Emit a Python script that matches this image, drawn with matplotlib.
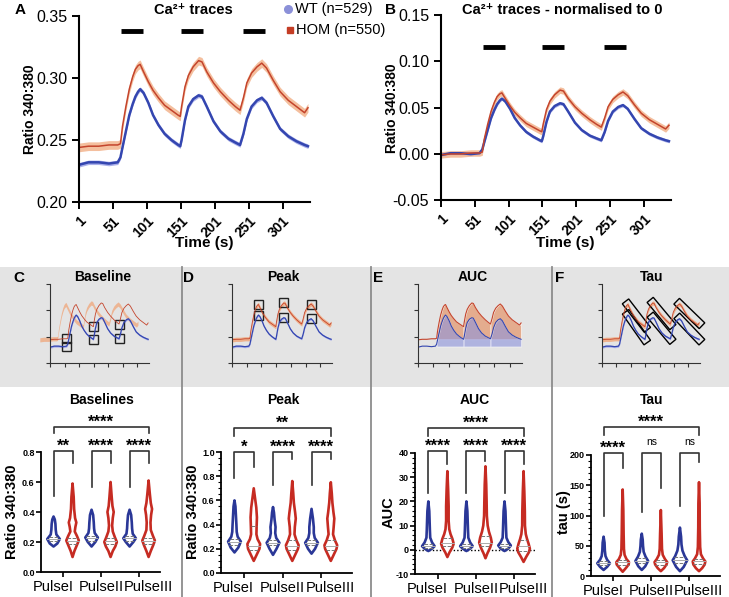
import numpy as np
import matplotlib.pyplot as plt
from matplotlib.patches import Rectangle, Polygon
from matplotlib.transforms import IdentityTransform

plt.rcParams['font.family'] = ['Liberation Sans', 'DejaVu Sans']

W, H = 729, 597

# ---------- Ca2+ traces ----------
time_s = [1, 15, 30, 45, 58, 62, 65, 70, 75, 80, 84, 88, 91, 96, 103, 110, 118, 127, 137, 147,
          150, 152, 157, 162, 169, 177, 182, 189, 199, 209, 221, 231, 238, 243, 248, 255,
          263, 270, 277, 287, 297, 309, 321, 333, 338]
wt_ratio = [0.230, 0.232, 0.232, 0.231, 0.232, 0.236, 0.244, 0.257, 0.270, 0.279,
            0.285, 0.289, 0.291, 0.288, 0.280, 0.270, 0.262, 0.255, 0.250, 0.246,
            0.245, 0.250, 0.266, 0.277, 0.283, 0.286, 0.285, 0.277, 0.265, 0.257,
            0.251, 0.248, 0.246, 0.255, 0.267, 0.277, 0.282, 0.284, 0.280, 0.269,
            0.259, 0.253, 0.249, 0.246, 0.245]
hom_ratio = [0.244, 0.245, 0.245, 0.246, 0.246, 0.247, 0.261, 0.277, 0.291, 0.301,
             0.307, 0.310, 0.311, 0.305, 0.297, 0.290, 0.284, 0.278, 0.274, 0.270,
             0.269, 0.277, 0.293, 0.302, 0.309, 0.314, 0.313, 0.305, 0.296, 0.289,
             0.282, 0.277, 0.274, 0.284, 0.296, 0.304, 0.309, 0.312, 0.308, 0.298,
             0.289, 0.282, 0.277, 0.272, 0.276]
wt_sem = 0.0018
hom_sem = 0.0035
stim_on = [63, 151, 242]
stim_off = [95, 183, 275]
trough_s = [58, 150, 238]
peak_s = [91, 177, 270]
end_s = [150, 238, 338]
onset_s = 62

# ---------- violin outlines (value, relative half-width), WT/HOM per pulse ----------
pulses = ['PulseI', 'PulseII', 'PulseIII']
base_prof = [
    [(0.17, 0), (0.19, 0.6), (0.22, 1.0), (0.25, 0.45), (0.28, 0.35), (0.32, 0.3), (0.35, 0.2), (0.37, 0)],
    [(0.10, 0), (0.14, 0.3), (0.18, 0.7), (0.21, 1.0), (0.24, 0.7), (0.27, 0.35), (0.30, 0.45), (0.33, 0.6),
     (0.36, 0.4), (0.42, 0.25), (0.50, 0.18), (0.59, 0)],
    [(0.17, 0), (0.20, 0.6), (0.23, 1.0), (0.26, 0.5), (0.29, 0.4), (0.33, 0.35), (0.38, 0.25), (0.415, 0)],
    [(0.10, 0), (0.14, 0.35), (0.17, 0.75), (0.20, 1.0), (0.23, 0.7), (0.27, 0.35), (0.31, 0.25), (0.36, 0.35),
     (0.40, 0.5), (0.44, 0.3), (0.50, 0.18), (0.60, 0)],
    [(0.17, 0), (0.20, 0.6), (0.225, 1.0), (0.255, 0.5), (0.29, 0.4), (0.33, 0.35), (0.38, 0.25), (0.415, 0)],
    [(0.10, 0), (0.14, 0.35), (0.18, 0.75), (0.21, 1.0), (0.24, 0.7), (0.28, 0.35), (0.33, 0.3), (0.38, 0.4),
     (0.42, 0.55), (0.46, 0.35), (0.52, 0.2), (0.61, 0)],
]
base_quart = [(0.205, 0.218, 0.232), (0.19, 0.205, 0.225), (0.21, 0.225, 0.24),
              (0.19, 0.21, 0.225), (0.21, 0.225, 0.24), (0.19, 0.21, 0.225)]

peak_prof = [
    [(0.17, 0), (0.21, 0.6), (0.26, 1.0), (0.30, 0.5), (0.34, 0.35), (0.40, 0.3), (0.48, 0.22), (0.55, 0.15), (0.60, 0)],
    [(0.10, 0), (0.15, 0.45), (0.20, 0.9), (0.24, 1.0), (0.28, 0.6), (0.32, 0.42), (0.38, 0.45), (0.46, 0.5),
     (0.54, 0.4), (0.60, 0.25), (0.70, 0)],
    [(0.15, 0), (0.20, 0.55), (0.25, 1.0), (0.29, 0.5), (0.33, 0.35), (0.38, 0.4), (0.44, 0.25), (0.50, 0.15), (0.545, 0)],
    [(0.10, 0), (0.15, 0.45), (0.20, 0.9), (0.23, 1.0), (0.27, 0.65), (0.32, 0.35), (0.38, 0.4), (0.45, 0.55),
     (0.50, 0.45), (0.58, 0.25), (0.66, 0.15), (0.76, 0)],
    [(0.16, 0), (0.20, 0.55), (0.25, 1.0), (0.29, 0.5), (0.33, 0.35), (0.38, 0.35), (0.45, 0.22), (0.53, 0)],
    [(0.10, 0), (0.15, 0.45), (0.20, 0.9), (0.23, 1.0), (0.27, 0.65), (0.32, 0.35), (0.38, 0.45), (0.45, 0.55),
     (0.50, 0.42), (0.58, 0.25), (0.66, 0.15), (0.75, 0)],
]
peak_quart = [(0.235, 0.26, 0.28), (0.19, 0.225, 0.39), (0.23, 0.25, 0.27),
              (0.19, 0.22, 0.27), (0.23, 0.25, 0.27), (0.19, 0.22, 0.27)]

auc_prof = [
    [(-0.5, 0), (0.5, 0.6), (1.5, 1.0), (3, 0.6), (5, 0.3), (8, 0.25), (12, 0.2), (16, 0.15), (20, 0)],
    [(-3, 0), (-1, 0.35), (1, 0.8), (2.5, 1.0), (4.5, 0.8), (6.5, 0.5), (8.5, 0.3), (12, 0.2), (18, 0.2),
     (25, 0.12), (32.5, 0)],
    [(-0.5, 0), (0.5, 0.6), (1.5, 1.0), (3, 0.6), (5, 0.3), (8, 0.25), (12, 0.2), (16, 0.15), (20, 0)],
    [(-3.5, 0), (-1.5, 0.3), (1, 0.75), (3, 1.0), (5, 0.85), (7.5, 0.55), (10, 0.35), (14, 0.22), (20, 0.18),
     (27, 0.12), (34.5, 0)],
    [(-0.5, 0), (0.5, 0.6), (1.8, 1.0), (3.2, 0.6), (5, 0.3), (8, 0.25), (12, 0.2), (16, 0.15), (20, 0)],
    [(-5, 0), (-3, 0.4), (-1, 0.85), (0.5, 1.0), (2.5, 0.8), (4.5, 0.55), (6.5, 0.35), (10, 0.22), (16, 0.2),
     (24, 0.12), (32.5, 0)],
]
auc_quart = [(0.8, 1.5, 2.5), (1.5, 2.7, 5), (0.8, 1.5, 2.5), (1.5, 3, 5.5), (0.8, 1.6, 2.6), (-0.5, 1.5, 4)]

tau_prof = [
    [(10, 0), (15, 0.55), (21, 1.0), (27, 0.55), (33, 0.3), (42, 0.2), (55, 0.15), (65, 0)],
    [(7, 0), (13, 0.5), (19, 0.95), (23, 1.0), (28, 0.6), (35, 0.3), (45, 0.2), (70, 0.15), (110, 0.1), (143, 0)],
    [(10, 0), (16, 0.55), (25, 1.0), (32, 0.6), (40, 0.3), (50, 0.2), (60, 0.15), (70, 0)],
    [(8, 0), (13, 0.5), (19, 0.9), (23, 1.0), (28, 0.65), (35, 0.3), (45, 0.18), (70, 0.12), (109, 0)],
    [(8, 0), (15, 0.6), (26, 1.15), (33, 0.75), (42, 0.4), (52, 0.25), (65, 0.18), (80, 0)],
    [(8, 0), (13, 0.5), (19, 0.9), (24, 1.0), (29, 0.65), (36, 0.3), (48, 0.18), (80, 0.12), (120, 0.1), (155, 0)],
]
tau_quart = [(18, 21, 25), (19, 23, 27), (21, 25, 29), (19, 23, 27), (22, 26, 31), (20, 24, 28)]

# significance brackets: pair legs (WT end, HOM end), pair top, labels, overall top / leg / label
base_sig = dict(legs=[(0.51, 0.73), (0.57, 0.73), (0.57, 0.73)], top=0.805,
                labels=['**', '****', '****'], otop=0.965, oleg=0.925, olabel='****')
peak_sig = dict(legs=[(0.785, 0.876), (0.73, 0.94), (0.73, 0.94)], top=1.0,
                labels=['*', '****', '****'], otop=1.198, oleg=1.13, olabel='**')
auc_sig = dict(legs=[(23.5, 35.4), (23.5, 36.5), (23.5, 35.4)], top=40.7,
               labels=['****', '****', '****'], otop=50.2, oleg=47, olabel='****')
tau_sig = dict(legs=[(100, 178), (105, 145), (115, 188)], top=203,
               labels=['****', 'ns', 'ns'], otop=246, oleg=233, olabel='****')

WT_C, HOM_C = '#3446b0', '#c4442c'
WT_BAND, HOM_BAND = '#aab0ea', '#f3b894'
VWT, VHOM = '#2a3797', '#c62b22'

wt = np.array(wt_ratio)
hom = np.array(hom_ratio)
t = np.array(time_s)


def px_rect(x0, y0, x1, y1):
    return [x0 / W, 1 - y1 / H, (x1 - x0) / W, (y1 - y0) / H]


fig = plt.figure(figsize=(W / 100, H / 100), dpi=100)

# background: grey strip + separators + free text
bg = fig.add_axes([0, 0, 1, 1], zorder=0)
bg.set_xlim(0, W)
bg.set_ylim(H, 0)
bg.axis('off')
bg.add_patch(Rectangle((0, 267), W, 120, facecolor='#e4e4e4', edgecolor='none'))
for xs in [182, 371, 552]:
    bg.plot([xs, xs], [267, H], color='#8c8c8c', lw=1.3)

bg.plot([288], [9], 'o', color='#8b90d8', ms=5.5)
bg.text(295, 9, 'WT (n=529)', va='center', fontsize=10.5)
bg.plot([290], [30], 's', color='#c43d25', ms=4.5)
bg.text(296, 30, 'HOM (n=550)', va='center', fontsize=10.5)

for lab, x, y in [('A', 20, 10), ('B', 391, 10), ('C', 19, 278), ('D', 189, 278), ('E', 378, 278), ('F', 560, 278)]:
    bg.text(x, y, lab, fontsize=11, fontweight='bold', ha='center', va='center')
bg.text(193, 10, 'Ca²⁺ traces', fontsize=10.5, fontweight='bold', ha='center', va='center')
bg.text(562, 10, 'Ca²⁺ traces - normalised to 0', fontsize=10.5, fontweight='bold',
        ha='center', va='center')
for x in [204, 565]:
    bg.text(x, 243, 'Time (s)', fontsize=11, fontweight='bold', ha='center', va='center')
for x, y in [(30, 109), (392, 108)]:
    bg.text(x, y, 'Ratio 340:380', fontsize=10, fontweight='bold', rotation=90, ha='center', va='center')
for lab, x in [('Baseline', 103), ('Peak', 283), ('AUC', 473), ('Tau', 652)]:
    bg.text(x, 277, lab, fontsize=10, fontweight='bold', ha='center', va='center')
for lab, x in [('Baselines', 102), ('Peak', 283), ('AUC', 475), ('Tau', 652)]:
    bg.text(x, 400, lab, fontsize=10, fontweight='bold', ha='center', va='center')
for lab, x in [('Ratio 340:380', 12), ('Ratio 340:380', 193), ('AUC', 389), ('tau (s)', 564)]:
    bg.text(x, 512, lab, fontsize=10.5, fontweight='bold', rotation=90, ha='center', va='center')


# ---------- A and B ----------
def trace_axes(rect, wt_y, hom_y, ylim, yticks, bar_y):
    ax = fig.add_axes(rect, zorder=1)
    ax.set_facecolor('none')
    ax.fill_between(t, wt_y - wt_sem, wt_y + wt_sem, color=WT_BAND, lw=0)
    ax.plot(t, wt_y, color=WT_C, lw=1.8)
    ax.fill_between(t, hom_y - hom_sem, hom_y + hom_sem, color=HOM_BAND, lw=0, alpha=0.9)
    ax.plot(t, hom_y, color=HOM_C, lw=1.1)
    ax.hlines([bar_y] * 3, stim_on, stim_off, color='k', lw=3.5)
    ax.set_xlim(1, 341)
    ax.set_ylim(*ylim)
    ax.set_yticks(yticks)
    ax.set_yticklabels(['%.2f' % v for v in yticks], fontsize=11.5)
    ax.set_xticks(range(1, 302, 50))
    ax.set_xticklabels([str(v) for v in range(1, 302, 50)], rotation=45, ha='right', va='top',
                       rotation_mode='anchor', fontsize=10, fontweight='bold')
    for s in ['top', 'right']:
        ax.spines[s].set_visible(False)
    for s in ['left', 'bottom']:
        ax.spines[s].set_linewidth(1.5)
    ax.tick_params(length=5, width=1.4)
    return ax


trace_axes(px_rect(79, 16, 310, 202), wt, hom, (0.20, 0.35), [0.20, 0.25, 0.30, 0.35], 0.338)
wt0 = wt - wt[:5].mean()
hom0 = hom - hom[:5].mean()
trace_axes(px_rect(441, 15, 671, 200), wt0, hom0, (-0.05, 0.15), [-0.05, 0.00, 0.05, 0.10, 0.15], 0.115)


# ---------- small schematic insets ----------
def inset(rect):
    ax = fig.add_axes(rect, zorder=1)
    ax.set_facecolor('none')
    ax.set_xlim(1, 341)
    ax.set_ylim(0.20, 0.35)
    ax.set_xticks(range(1, 302, 50))
    ax.set_yticks([0.20, 0.25, 0.30, 0.35])
    ax.tick_params(labelbottom=False, labelleft=False, length=3, width=0.8, color='#333333')
    for s in ['top', 'right']:
        ax.spines[s].set_visible(False)
    for s in ['left', 'bottom']:
        ax.spines[s].set_linewidth(0.8)
        ax.spines[s].set_color('#333333')
    return ax


def square(ax, tt, v, half=4.5):
    x, y = ax.transData.transform((tt, v))
    ax.add_patch(Rectangle((x - half, y - half), 2 * half, 2 * half, fill=False, ec='#222222', lw=1.0,
                           transform=IdentityTransform(), clip_on=False))


def seg_box(ax, t0, v0, t1, v1, half=4.0, ext=4.0):
    p0 = ax.transData.transform((t0, v0))
    p1 = ax.transData.transform((t1, v1))
    d = (p1 - p0) / np.hypot(*(p1 - p0))
    n = np.array([-d[1], d[0]])
    a, b = p0 - d * ext, p1 + d * ext
    pts = [a + n * half, b + n * half, b - n * half, a - n * half]
    ax.add_patch(Polygon(pts, closed=True, fill=False, ec='k', lw=1.0,
                         transform=IdentityTransform(), clip_on=False))


# C: baselines
axc = inset(px_rect(50, 284, 149, 363))
axc.fill_between(t - 35, hom - 0.004, hom + 0.004, color='#eeb08c', lw=0, alpha=0.9, clip_on=False)
axc.fill_between(t, wt - 0.002, wt + 0.002, color=WT_BAND, lw=0)
axc.plot(t, wt, color=WT_C, lw=0.9)
axc.plot(t, hom, color=HOM_C, lw=0.6)
for tt in trough_s:
    i = time_s.index(tt)
    square(axc, tt, wt[i])
    square(axc, tt, hom[i])

# D: peaks
axd = inset(px_rect(232, 284, 332, 363))
axd.fill_between(t, wt - 0.002, wt + 0.002, color=WT_BAND, lw=0)
axd.plot(t, wt, color=WT_C, lw=0.9)
axd.fill_between(t, hom - 0.004, hom + 0.004, color='#eeb08c', lw=0)
axd.plot(t, hom, color=HOM_C, lw=0.6)
for tt in peak_s:
    i = time_s.index(tt)
    square(axd, tt, wt[i])
    square(axd, tt, hom[i])

# E: area under curve
axe = inset(px_rect(418, 284, 522, 363))
seg_edges = [onset_s] + end_s[:-1]
for s0, s1 in zip(seg_edges, end_s):
    m = (t >= s0) & (t <= s1)
    axe.fill_between(t[m], hom[:5].mean(), hom[m], facecolor='#e49a72', alpha=0.75, edgecolor='white', lw=0.6)
for s0, s1 in zip(seg_edges, end_s):
    m = (t >= s0) & (t <= s1)
    axe.fill_between(t[m], wt[:5].mean(), wt[m], facecolor='#8d93dd', alpha=0.6, edgecolor='white', lw=0.6)
axe.plot(t, hom, color=HOM_C, lw=0.8)
axe.plot(t, wt, color=WT_C, lw=0.8)

# F: decay constant
axf = inset(px_rect(602, 284, 700, 363))
axf.fill_between(t, wt - 0.002, wt + 0.002, color=WT_BAND, lw=0)
axf.plot(t, wt, color=WT_C, lw=0.9)
axf.fill_between(t, hom - 0.004, hom + 0.004, color='#eeb08c', lw=0)
axf.plot(t, hom, color=HOM_C, lw=0.6)
for tp, te in zip(peak_s, end_s):
    i, j = time_s.index(tp), time_s.index(te)
    seg_box(axf, tp, wt[i], te, wt[j])
    seg_box(axf, tp, hom[i], te, hom[j])


# ---------- violin panels ----------
def violin_panel(rect, profs, quarts, ylim, yticks, ylabels, minor, sig, xlim, zero_line=False):
    ax = fig.add_axes(rect, zorder=1)
    ax.set_facecolor('none')
    hw = 0.165
    for k, prof in enumerate(profs):
        c = k // 2 + (-0.25 if k % 2 == 0 else 0.25)
        col = VWT if k % 2 == 0 else VHOM
        ys = np.array([p[0] for p in prof])
        ws = np.array([p[1] for p in prof]) * hw
        pts = list(zip(c + ws, ys)) + list(zip(c - ws[::-1], ys[::-1]))
        ax.add_patch(Polygon(pts, closed=True, facecolor='white', edgecolor=col, lw=1.9, joinstyle='round',
                             zorder=2))
        for q, style, qc in zip(quarts[k], ['--', '-', '--'], ['#777777', '#aaaaaa', '#777777']):
            w = np.interp(q, ys, ws)
            ax.plot([c - w, c + w], [q, q], ls=style, color=qc, lw=0.7, zorder=3)
    if zero_line:
        ax.axhline(0, color='k', ls=(0, (1, 1.5)), lw=1.0, zorder=1)
    span = ylim[1] - ylim[0]
    for g in range(3):
        x0, x1 = g - 0.25, g + 0.25
        l0, l1 = sig['legs'][g]
        ax.plot([x0, x0, x1, x1], [l0, sig['top'], sig['top'], l1], color='#333333', lw=1.2, clip_on=False)
        lab = sig['labels'][g]
        if lab == 'ns':
            ax.text(g, sig['top'] + 0.05 * span, lab, ha='center', va='bottom', fontsize=7.5)
        else:
            ax.text(g, sig['top'] - 0.02 * span, lab, ha='center', va='bottom', fontsize=12, fontweight='bold')
    ax.plot([-0.25, -0.25, 2.25, 2.25], [sig['oleg'], sig['otop'], sig['otop'], sig['oleg']],
            color='#333333', lw=1.2, clip_on=False)
    ax.text(1, sig['otop'] - 0.02 * span, sig['olabel'], ha='center', va='bottom', fontsize=12, fontweight='bold')
    ax.set_xlim(*xlim)
    ax.set_ylim(*ylim)
    ax.set_yticks(yticks)
    ax.set_yticklabels(ylabels, fontsize=6.5, fontweight='bold')
    if minor:
        ax.set_yticks(np.arange(ylim[0], ylim[1] + 1e-9, minor), minor=True)
    ax.set_xticks([0, 1, 2])
    ax.set_xticklabels([])
    for xl, lab in zip([-0.27, 1.0, 2.24], pulses):
        ax.text(xl, -0.125, lab, transform=ax.get_xaxis_transform(), ha='center', va='center', fontsize=10.5)
    for s in ['top', 'right']:
        ax.spines[s].set_visible(False)
    for s in ['left', 'bottom']:
        ax.spines[s].set_linewidth(1.3)
    ax.tick_params(axis='both', which='major', length=3.5, width=1.2, pad=1)
    ax.tick_params(axis='y', which='minor', length=2, width=0.8)
    return ax


violin_panel(px_rect(41, 452, 160, 572), base_prof, base_quart, (0, 0.8), [0, 0.2, 0.4, 0.6, 0.8],
             ['0.0', '0.2', '0.4', '0.6', '0.8'], None, base_sig, (-0.58, 2.55))
violin_panel(px_rect(221, 452, 352, 573), peak_prof, peak_quart, (0, 1.0), [0, 0.2, 0.4, 0.6, 0.8, 1.0],
             ['0.0', '0.2', '0.4', '0.6', '0.8', '1.0'], 0.05, peak_sig, (-0.6, 2.8))
violin_panel(px_rect(415, 453, 535, 574), auc_prof, auc_quart, (-10, 40), [-10, 0, 10, 20, 30, 40],
             ['-10', '0', '10', '20', '30', '40'], 2, auc_sig, (-0.6, 2.55), zero_line=True)
violin_panel(px_rect(591, 455, 720, 576), tau_prof, tau_quart, (0, 200), [0, 50, 100, 150, 200],
             ['0', '50', '100', '150', '200'], 10, tau_sig, (-0.58, 2.8))

fig.savefig('out.png', dpi=100)
